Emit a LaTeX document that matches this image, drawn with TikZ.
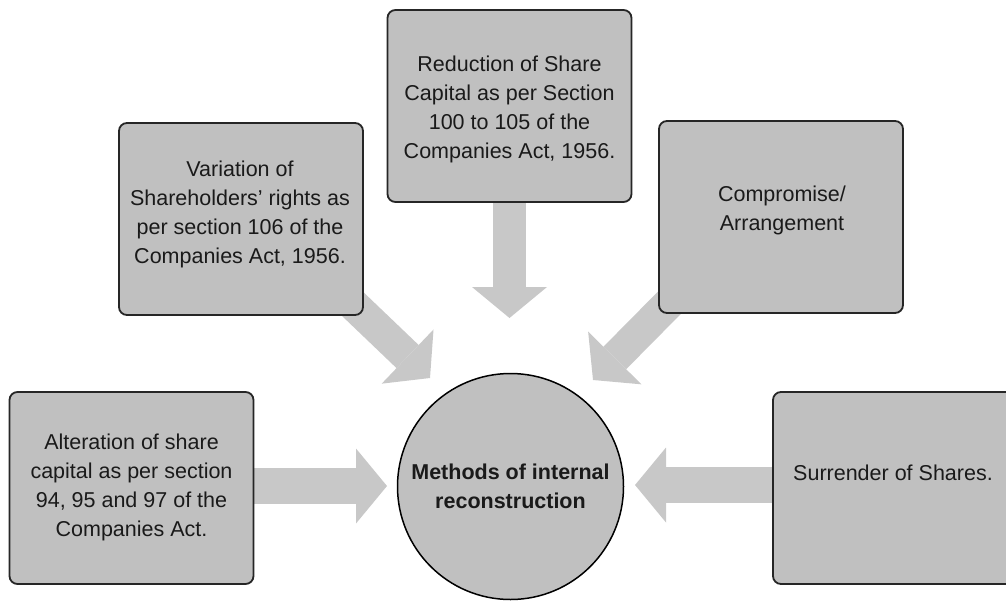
\documentclass[tikz,border=0pt]{standalone}
\usepackage{fontspec}
\setmainfont{Liberation Sans}
\usetikzlibrary{arrows.meta,calc,backgrounds}
\definecolor{boxfill}{HTML}{C0C0C0}
\definecolor{arrowfill}{HTML}{C8C8C8}
\definecolor{edge}{HTML}{262626}
\definecolor{ink}{HTML}{1A1A1A}
\begin{document}
\begin{tikzpicture}[x=1pt,y=-1pt,
  box/.style={draw=edge, line width=1.8pt, fill=boxfill, rounded corners=8pt,
    minimum width=244pt, minimum height=192pt, inner sep=0pt},
  lbl/.style={text=ink, align=center, font=\fontsize{21.5}{29}\selectfont, inner sep=0pt},
  hub/.style={circle, draw=black, line width=1.5pt, fill=boxfill,
    minimum size=226pt, inner sep=0pt, align=center,
    text=ink, font=\bfseries\fontsize{21.5}{29}\selectfont},
  blk/.style={draw=arrowfill, line width=#1,
    -{Triangle[width=75pt,length=31pt,line width=0pt]}},
]
\useasboundingbox (0,0) rectangle (1006,600);
\clip (0,0) rectangle (1006,600);

% boxes
\node[box] (re) at (509.5,106) {};
\node[box] (va) at (241,219) {};
\node[box] (co) at (781,217) {};
\node[box] (al) at (131.5,488) {};
\node[box] (su) at (895,488) {};

% labels
\node[lbl] (ret) at (509.5,109) {Reduction of Share\\Capital as per Section\\100 to 105 of the\\Companies Act, 1956.};
\node[lbl] (vat) at (240,214) {Variation of\\Shareholders’ rights as\\per section 106 of the\\Companies Act, 1956.};
\node[lbl] (cot) at (782,210) {Compromise/\\Arrangement};
\node[lbl] (alt) at (131.5,487) {Alteration of share\\capital as per section\\94, 95 and 97 of the\\Companies Act.};
\node[lbl] (sut) at (893,473) {Surrender of Shares.};

% centre
\node[hub] (hubn) at (510.5,486.5) {Methods of internal\\reconstruction};

% arrow tips
\coordinate (rtip) at (509.5,318);
\coordinate (vtip) at (430,378);
\coordinate (ctip) at (593,380);
\coordinate (ltip) at (387,486);
\coordinate (stip) at (635,485);

\begin{scope}[on background layer]
\draw[blk=33pt] (re.center) -- (rtip);
\draw[blk=32pt] ($(va.south east)+(-26,-26)$) -- (vtip);
\draw[blk=32pt] ($(co.south west)+(26,-26)$) -- (ctip);
\draw[blk=36pt] (al.center |- ltip) -- (ltip);
\draw[blk=36pt] (su.center |- stip) -- (stip);
\end{scope}
\end{tikzpicture}
\end{document}
